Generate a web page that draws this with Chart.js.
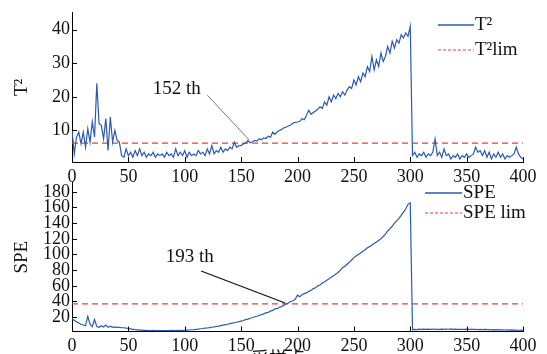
<!DOCTYPE html>
<html>
<head>
<meta charset="utf-8">
<script src="https://cdn.jsdelivr.net/npm/chart.js@4.4.0/dist/chart.umd.min.js"></script>
<style>
  html, body { margin: 0; padding: 0; background: #fff; overflow: hidden; width: 547px; height: 354px; }
  canvas { position: absolute; left: 0; }
  #topChart { top: 0; }
  #bottomChart { top: 170px; }
</style>
</head>
<body>
<canvas id="topChart" width="547" height="190"></canvas>
<canvas id="bottomChart" width="547" height="200"></canvas>
<script>
// sample index, every 2nd sample 0..400
const samples = Array.from({ length: 201 }, (_, i) => i * 2);

const t2Values = [
  10, 3, 8, 9.5, 6, 9.5, 5, 10.5, 6.5, 12.5,
  8, 24, 12, 11.5, 7.5, 13.5, 4, 14, 6.5, 10,
  7, 6.5, 2.5, 2, 4.5, 2.5, 3.5, 2, 4, 2.5,
  4.5, 2.5, 3.5, 2, 3, 2.5, 3.5, 2, 3, 2.5,
  3, 2, 3.5, 2.5, 3, 2, 4.5, 2.5, 3.5, 2.5,
  4, 2, 3.5, 2.5, 3, 2.5, 4, 3, 3.5, 2.5,
  4.5, 3, 5.5, 3, 4, 3.5, 5, 3.5, 4.5, 4,
  5, 4.5, 6.5, 5, 5.5, 5.5, 6, 6.2, 7, 6.3,
  6.6, 7, 6.8, 7.5, 7.2, 7.8, 7.6, 8.3, 8, 9.5,
  8.8, 9.6, 10, 10.3, 10.8, 11, 11.3, 11.6, 12.2, 12.4,
  12.5, 12.7, 13.5, 13.2, 14.5, 16, 14.8, 15.3, 15.8, 16.3,
  17, 16.5, 18.5, 17.5, 20, 18.5, 20.5, 19.5, 21, 20,
  21.5, 20.5, 22, 23, 22.5, 25, 23.5, 26, 24.5, 27,
  26, 29, 27.5, 32, 28, 31, 29, 33, 30.5, 32,
  35, 33, 36.5, 34.5, 37, 36, 38.5, 37.5, 39, 38,
  41,
  2.5, 3.5, 2, 3, 2.5, 3.5, 2, 3, 2.5,
  3.5, 7.5, 2.5, 3.5, 2, 4.5, 2.5, 3, 1.5, 2.5,
  2, 3, 1.5, 2.5, 2, 3, 2, 2.5, 3, 5,
  3.5, 4, 2.5, 4, 2, 3.5, 1.5, 3, 2, 3.5,
  2, 3, 1.5, 2.5, 2, 2.5, 3, 5, 3, 2,
  1.5
];

const speValues = [
  18, 16, 14, 12.5, 11, 10, 9, 21, 11, 8,
  17, 8, 7, 9, 7.5, 10, 7, 8.5, 7, 7.5,
  7, 7, 6.5, 6.5, 6, 5.5, 5, 4.5, 4, 3.8,
  3.5, 3.5, 3.2, 3.3, 3, 3, 3.2, 2.9, 3, 2.8,
  3, 2.8, 3, 2.9, 3.1, 2.9, 3, 3.1, 3, 3.2,
  3.3, 3.5, 3.6, 3.9, 4.1, 4.5, 4.8, 5.2, 5.5, 6,
  6.2, 6.6, 7.1, 7.5, 8.1, 8.6, 9.2, 9.8, 10.4, 11,
  11.8, 12.3, 12.9, 13.5, 14.2, 15, 15.8, 16.8, 17.5, 18.6,
  19.3, 20.5, 21.2, 22.5, 23.3, 24.2, 25.4, 26, 27.8, 28.6,
  30.5, 30.8, 32.6, 33.5, 35.2, 37, 38, 40, 41, 43,
  48, 46, 48.5, 50, 51, 53, 54, 56.5, 57.5, 60,
  61, 63.5, 65, 67, 69, 71, 73, 75, 77, 80,
  83, 85, 87.5, 90, 93, 96, 98, 100, 102, 104,
  106, 108.5, 110, 112, 114, 116, 118, 120, 123, 126,
  130, 133, 136, 140, 143, 146, 150, 154, 158, 164,
  166,
  4, 4.5, 4.2, 4.6, 4.3, 4.8, 4.4, 4.7, 4.5, 4.9,
  4.4, 4.6, 4.3, 4.7, 4.5, 4.8, 4.6, 5, 4.5, 4.7,
  4.4, 4.6, 4.3, 4.5, 4.8, 4.4, 4.6, 4.3, 4.5, 4.2,
  4.4, 4.1, 4.3, 4.0, 4.2, 3.9, 4.1, 3.8, 4.0, 3.7,
  3.9, 3.6, 3.8, 3.5, 3.7, 3.4, 3.6, 3.3, 3.5, 3.2
];

const t2Limit = 6.2;
const speLimit = 37;

const xTicks = [0, 50, 100, 150, 200, 250, 300, 350, 400];
const t2Ticks = [10, 20, 30, 40];
const speTicks = [20, 40, 60, 80, 100, 120, 140, 160, 180];

const FONT = '"Liberation Serif", "Times New Roman", serif';
const BLUE = '#2a5bb0';
const RED = '#e8403c';

// inward ticks, note arrow and legend
function decor(cfg) {
  return {
    id: 'decor',
    afterDraw(chart) {
      const ctx = chart.ctx, x = chart.scales.x, y = chart.scales.y;
      ctx.save();
      ctx.strokeStyle = '#000';
      ctx.lineWidth = 1;
      ctx.beginPath();
      xTicks.forEach(v => {
        const px = Math.round(x.getPixelForValue(v)) + 0.5;
        ctx.moveTo(px, y.bottom);
        ctx.lineTo(px, y.bottom - 5);
      });
      cfg.yTicks.forEach(v => {
        const py = Math.round(y.getPixelForValue(v)) + 0.5;
        ctx.moveTo(x.left, py);
        ctx.lineTo(x.left + 5, py);
      });
      ctx.stroke();

      const n = cfg.note;
      ctx.strokeStyle = n.color;
      ctx.lineWidth = n.width;
      ctx.beginPath();
      ctx.moveTo(x.getPixelForValue(n.from[0]), y.getPixelForValue(n.from[1]));
      ctx.lineTo(x.getPixelForValue(n.to[0]), y.getPixelForValue(n.to[1]));
      ctx.stroke();
      ctx.fillStyle = '#111';
      ctx.font = '19px ' + FONT;
      ctx.textAlign = 'center';
      ctx.textBaseline = 'middle';
      ctx.fillText(n.text, x.getPixelForValue(n.at[0]), y.getPixelForValue(n.at[1]));

      const lg = cfg.legend;
      ctx.textAlign = 'left';
      lg.items.forEach((it, i) => {
        const yy = lg.y + i * lg.gap;
        ctx.beginPath();
        ctx.strokeStyle = it.color;
        ctx.lineWidth = it.dash ? 1.2 : 1.3;
        ctx.setLineDash(it.dash || []);
        ctx.moveTo(lg.x, yy);
        ctx.lineTo(lg.x + lg.len, yy);
        ctx.stroke();
        ctx.setLineDash([]);
        ctx.fillText(it.text, lg.x + lg.len + 1, yy);
      });

      if (cfg.xTitle) {
        ctx.font = '18px "Noto Sans CJK SC", ' + FONT;
        ctx.textAlign = 'center';
        ctx.textBaseline = 'top';
        ctx.fillText(cfg.xTitle, 278, y.bottom + 18);
      }
      ctx.restore();
    }
  };
}

function buildChart(id, cfg) {
  return new Chart(document.getElementById(id), {
    type: 'line',
    data: {
      datasets: [
        {
          label: cfg.name,
          data: samples.map((s, i) => ({ x: s, y: cfg.values[i] })),
          borderColor: BLUE, borderWidth: 1.2, pointRadius: 0, tension: 0
        },
        {
          label: cfg.name + ' lim',
          data: [{ x: 0, y: cfg.limit }, { x: 400, y: cfg.limit }],
          borderColor: RED, borderWidth: 1.3, borderDash: [6, 4], pointRadius: 0
        }
      ]
    },
    options: {
      responsive: false,
      animation: false,
      layout: { padding: cfg.padding },
      plugins: { legend: { display: false }, tooltip: { enabled: false } },
      scales: {
        x: {
          type: 'linear', min: 0, max: 400,
          afterBuildTicks: s => { s.ticks = xTicks.map(v => ({ value: v })); },
          afterFit: s => { s.height = cfg.xHeight; },
          grid: { display: false, drawTicks: false },
          border: { color: '#000', width: 1 },
          ticks: { color: '#111', font: { family: FONT, size: 18 }, padding: 4, maxRotation: 0, autoSkip: false }
        },
        y: {
          type: 'linear', min: cfg.yMin, max: cfg.yMax,
          afterBuildTicks: s => { s.ticks = cfg.yTicks.map(v => ({ value: v })); },
          afterFit: s => { s.width = 72; },
          grid: { display: false, drawTicks: false },
          border: { color: '#000', width: 1 },
          ticks: { color: '#111', font: { family: FONT, size: 18 }, padding: 2, autoSkip: false },
          title: {
            display: true, text: cfg.yTitle, color: '#111',
            font: { family: FONT, size: 19 }, padding: { top: 10.5, bottom: 0 }
          }
        }
      }
    },
    plugins: [decor(cfg)]
  });
}

buildChart('topChart', {
  name: 'T²', values: t2Values, limit: t2Limit,
  yMin: 0.6, yMax: 45, yTicks: t2Ticks, yTitle: 'T²',
  padding: { top: 10, right: 24, left: 0, bottom: 0 }, xHeight: 28,
  note: { text: '152 th', at: [93, 22.4], from: [120, 20.5], to: [157, 7.2], color: '#555', width: 0.8 },
  legend: { x: 438, y: 25, gap: 25, len: 36, items: [
    { text: 'T²', color: BLUE },
    { text: 'T²lim', color: RED, dash: [3, 2] }
  ] }
});

buildChart('bottomChart', {
  name: 'SPE', values: speValues, limit: speLimit,
  yMin: 1.7, yMax: 191.5, yTicks: speTicks, yTitle: 'SPE',
  padding: { top: 6, right: 24, left: 0, bottom: 0 }, xHeight: 38.5,
  note: { text: '193 th', at: [104.4, 97], from: [114.5, 79], to: [189, 38], color: '#111', width: 1.2 },
  legend: { x: 425, y: 23, gap: 20, len: 37, items: [
    { text: 'SPE', color: BLUE },
    { text: 'SPE lim', color: RED, dash: [3, 2] }
  ] },
  xTitle: '采样点'
});
</script>
</body>
</html>
